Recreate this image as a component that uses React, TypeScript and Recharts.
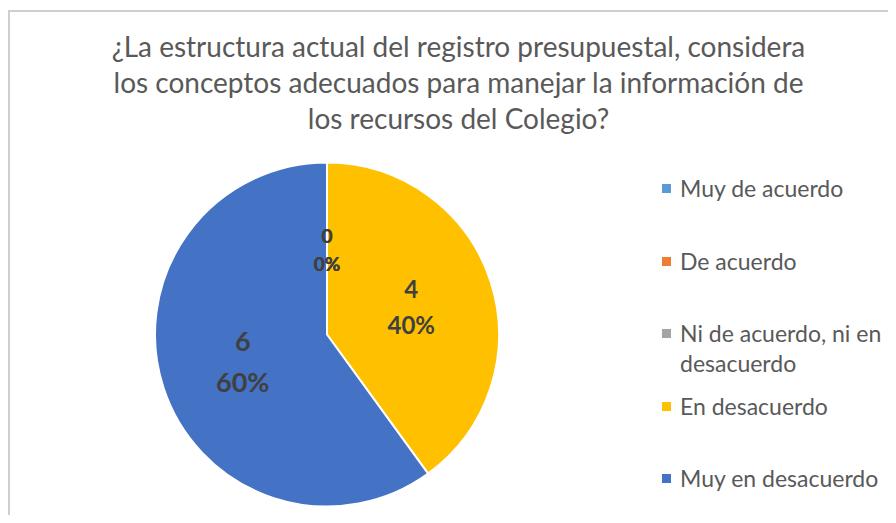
import React from 'react';
import { PieChart, Pie, Cell, Legend } from 'recharts';

const categories = [
  'Muy de acuerdo',
  'De acuerdo',
  'Ni de acuerdo, ni en desacuerdo',
  'En desacuerdo',
  'Muy en desacuerdo',
];
const counts = [0, 0, 0, 4, 6];
const colors = ['#5B9BD5', '#ED7D31', '#A5A5A5', '#FFC000', '#4472C4'];
const titleLines = [
  '¿La estructura actual del registro presupuestal, considera',
  'los conceptos adecuados para manejar la información de',
  'los recursos del Colegio?',
];

const data = categories.map((name, i) => ({ name, value: counts[i] }));
const total = counts.reduce((a, b) => a + b, 0);
const RAD = Math.PI / 180;
const FONT = 'Lato, "Open Sans", sans-serif';

// the data labels in the original grow with the slice
const labelSize = (v: number) => (v >= 6 ? 27 : v >= 4 ? 24 : 19);

const renderLabel = (props: any) => {
  const { cx, cy, midAngle, outerRadius, value } = props;
  const r = outerRadius * 0.515;
  const x = cx + r * Math.cos(-midAngle * RAD);
  const y = cy + r * Math.sin(-midAngle * RAD) + (value === 0 ? 4 : 0);
  const pct = Math.round((value / total) * 100);
  const fs = labelSize(value);
  const gap = fs * 1.5;
  return (
    <text x={x} textAnchor="middle" fill="#404040" fontFamily={FONT} fontWeight="bold" fontSize={fs}>
      <tspan x={x} y={y - gap / 2 + fs * 0.36}>{value}</tspan>
      <tspan x={x} y={y + gap / 2 + fs * 0.36}>{pct}%</tspan>
    </text>
  );
};

const renderLegend = (props: any) => {
  const payload = [...(props.payload || [])].sort(
    (a: any, b: any) => categories.indexOf(a.value) - categories.indexOf(b.value)
  );
  return (
    <div style={{ fontFamily: FONT, fontSize: 23, color: '#595959' }}>
      {payload.map((entry: any, index: number) => (
        <div key={`item-${index}`} style={{ height: 72.5, display: 'flex', alignItems: 'flex-start' }}>
          <div style={{ width: 9, height: 9, background: entry.color, marginTop: 11, marginRight: 9, flexShrink: 0 }} />
          <div style={{ lineHeight: '30px', width: 215 }}>{entry.value}</div>
        </div>
      ))}
    </div>
  );
};

export default function App() {
  return (
    <div style={{ position: 'relative', width: 896, height: 523, margin: -8, overflow: 'hidden', background: '#fff' }}>
      <div
        style={{
          position: 'absolute', left: 0, top: 28, width: 917, textAlign: 'center',
          fontFamily: FONT, fontSize: 28, lineHeight: '36px', color: '#595959',
        }}
      >
        {titleLines.map((t, i) => <div key={i}>{t}</div>)}
      </div>
      <div style={{ position: 'absolute', left: 0, top: 0 }}>
        <PieChart width={896} height={523} margin={{ top: 0, right: 0, bottom: 0, left: 0 }}>
          <Pie
            data={data}
            dataKey="value"
            nameKey="name"
            cx={327}
            cy={334.5}
            outerRadius={172}
            startAngle={90}
            endAngle={-270}
            stroke="#ffffff"
            strokeWidth={2}
            label={renderLabel}
            labelLine={false}
            isAnimationActive={false}
          >
            {data.map((entry, index) => (
              <Cell key={`cell-${index}`} fill={colors[index]} />
            ))}
          </Pie>
          <Legend
            layout="vertical"
            align="right"
            verticalAlign="top"
            content={renderLegend}
            wrapperStyle={{ position: 'absolute', left: 662, top: 173, width: 234 }}
          />
        </PieChart>
      </div>
      {/* chart area frame */}
      <div style={{ position: 'absolute', left: 7, top: 10, width: 900, height: 2, background: '#cfcfcf' }} />
      <div style={{ position: 'absolute', left: 7, top: 10, width: 3, height: 520, background: '#cfcfcf' }} />
    </div>
  );
}
